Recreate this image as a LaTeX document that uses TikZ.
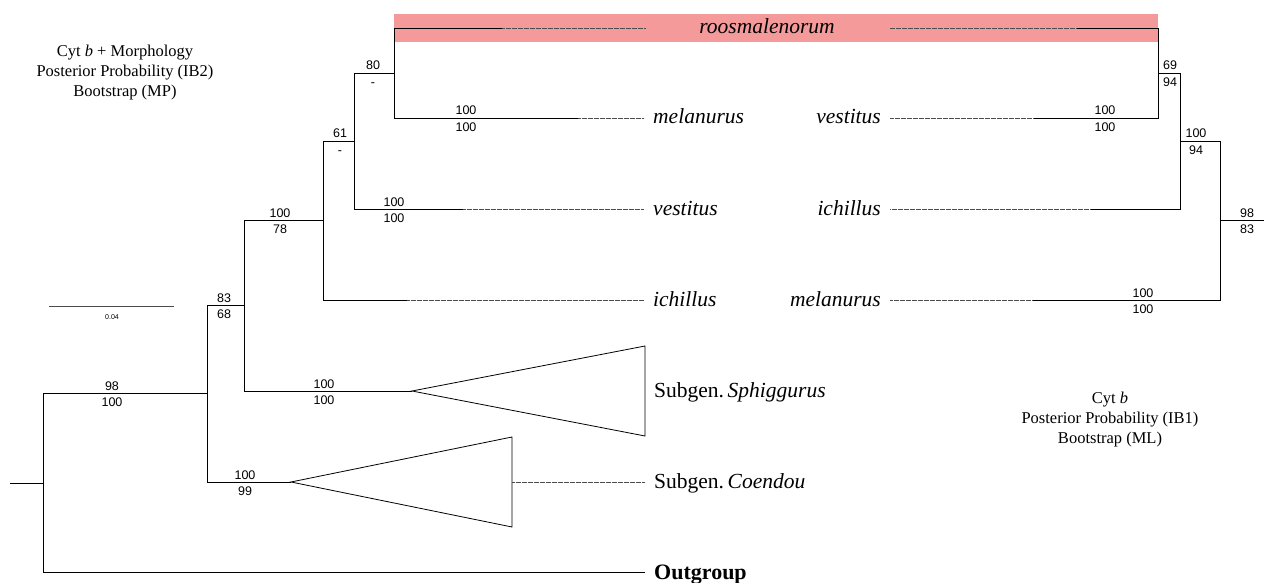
\documentclass[tikz,border=0pt]{standalone}
\usepackage{fontspec}
\setmainfont{Liberation Serif}
\newfontfamily\numfont{Liberation Sans}
\definecolor{bandpink}{RGB}{244,154,155}
\begin{document}
\begin{tikzpicture}[x=1pt,y=-1pt,
  br/.style={line width=0.9pt, black},
  dotline/.style={line width=0.7pt, black!70, dash pattern=on 0.4pt off 0.8pt},
  tri/.style={line width=0.8pt, black},
  taxonL/.style={font=\fontsize{21.5}{24}\selectfont\itshape, inner ysep=0pt, inner xsep=9pt, anchor=base west},
  taxonR/.style={font=\fontsize{21.5}{24}\selectfont\itshape, inner ysep=0pt, inner xsep=9pt, anchor=base east},
  grp/.style={font=\fontsize{21.5}{24}\selectfont, inner ysep=0pt, inner xsep=9pt, anchor=base west},
  bsv/.style={font=\numfont\fontsize{12.5}{14}\selectfont, inner sep=0pt, anchor=base},
  head/.style={font=\fontsize{16.5}{20}\selectfont, align=center, inner sep=0pt}
]
\useasboundingbox (0,0) rectangle (1264,583);
\newcommand\sv[5]{\node[bsv] (#1u) at (#2,#3-3) {#4}; \node[bsv] (#1l) at (#2,#3+13.5) {#5};}

% highlight band
\fill[bandpink] (394,14) rectangle (1158,42);

% ---------- left tree ----------
\coordinate (L0) at (10,483);
\coordinate (R) at (43,483);
\coordinate (A) at (207,393);
\coordinate (B) at (244,305);
\coordinate (C) at (323,220);
\coordinate (D) at (354,141);
\coordinate (E) at (394,73);
\coordinate (Capex) at (291,482);
\coordinate (Sapex) at (412,391);
\coordinate (roosS) at (502,28);
\coordinate (melS) at (578,118);
\coordinate (vesS) at (463,209);
\coordinate (ichS) at (407,300);

% labels (left)
\node[taxonL] (melLab) at (644,124) {melanurus};
\node[taxonL] (vesLab) at (644,215) {vestitus};
\node[taxonL] (ichLab) at (644,306) {ichillus};
\node[grp] (sphLab) at (645,397) {Subgen.\,\textit{Sphiggurus}};
\node[grp] (coeLab) at (645,488) {Subgen.\,\textit{Coendou}};
\node[grp, font=\fontsize{22}{24}\selectfont\bfseries] (outLab) at (645,579) {Outgroup};
\node[font=\fontsize{21.5}{24}\selectfont\itshape, inner ysep=0pt, inner xsep=54pt, anchor=base] (roosLab) at (767,34) {roosmalenorum};

\draw[br] (L0) -- (R);
\draw[br] (R) |- (A);
\draw[br] (R) |- (outLab.west |- 0,572);
\draw[br] (A) |- (B);
\draw[br] (A) |- (Capex);
\draw[br] (B) |- (Sapex);
\draw[br] (B) |- (C);
\draw[br] (C) |- (D);
\draw[br] (C) |- (ichS);
\draw[br] (D) |- (E);
\draw[br] (D) |- (vesS);
\draw[br] (E) |- (roosS);
\draw[br] (E) |- (melS);

\draw[dotline] (roosS) -- (roosLab.west |- roosS);
\draw[dotline] (melS) -- (melLab.west |- melS);
\draw[dotline] (vesS) -- (vesLab.west |- vesS);
\draw[dotline] (ichS) -- (ichLab.west |- ichS);

% collapsed clades
\draw[tri] (Sapex) -- (645,346) -- (645,436) -- cycle;
\draw[tri] (Capex) -- (512,437) -- (512,527) -- cycle;
\coordinate (Cend) at (512,482);
\draw[dotline] (Cend) -- (coeLab.west |- Cend);

% support values (left)
\sv{a}{112}{393}{98}{100}
\sv{b}{224}{305}{83}{68}
\sv{c}{245}{482}{100}{99}
\sv{d}{324}{391}{100}{100}
\sv{e}{280}{220}{100}{78}
\sv{f}{340}{141}{61}{-}
\sv{g}{373}{73}{80}{-}
\sv{h}{466}{118}{100}{100}
\sv{i}{394}{209}{100}{100}

% ---------- right tree ----------
\coordinate (RR) at (1264,220);
\coordinate (F) at (1220,220);
\coordinate (G) at (1180,141);
\coordinate (H) at (1158,73);
\coordinate (roosR) at (1076,28);
\coordinate (vesR) at (1033,118);
\coordinate (ichR) at (1090,209);
\coordinate (melR) at (1032,300);

\node[taxonR] (vesLabR) at (890,124) {vestitus};
\node[taxonR] (ichLabR) at (890,215) {ichillus};
\node[taxonR] (melLabR) at (890,306) {melanurus};

\draw[br] (RR) -- (F);
\draw[br] (F) |- (G);
\draw[br] (F) |- (melR);
\draw[br] (G) |- (H);
\draw[br] (G) |- (ichR);
\draw[br] (H) |- (roosR);
\draw[br] (H) |- (vesR);

\draw[dotline] (roosR) -- (roosLab.east |- roosR);
\draw[dotline] (vesR) -- (vesLabR.east |- vesR);
\draw[dotline] (ichR) -- (ichLabR.east |- ichR);
\draw[dotline] (melR) -- (melLabR.east |- melR);

% support values (right)
\sv{j}{1170}{73}{69}{94}
\sv{k}{1105}{118}{100}{100}
\sv{l}{1196}{141}{100}{94}
\sv{m}{1143}{300}{100}{100}
\sv{n}{1247}{220}{98}{83}

% scale bar
\coordinate (sb1) at (49,306);
\coordinate (sb2) at (174,306);
\draw[line width=0.9pt, black!70] (sb1) -- (sb2);
\node[font=\numfont\fontsize{7}{8}\selectfont, inner sep=0pt] (sbLab) at (112,317) {0.04};

% headings
\node[head] (headL) at (125,73) {Cyt \textit{b} + Morphology\\Posterior Probability (IB2)\\Bootstrap (MP)};
\node[head] (headR) at (1110,420) {Cyt \textit{b}\\Posterior Probability (IB1)\\Bootstrap (ML)};
\end{tikzpicture}
\end{document}
